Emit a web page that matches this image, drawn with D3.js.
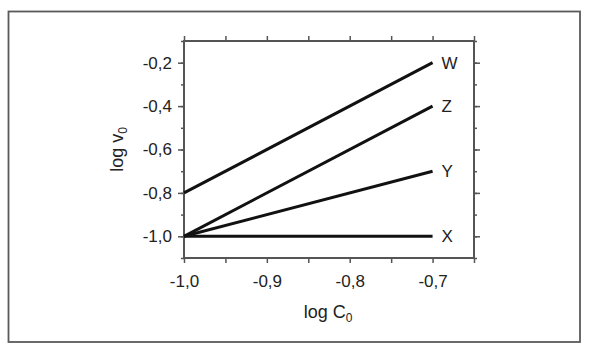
<!DOCTYPE html>
<html><head><meta charset="utf-8">
<script src="https://cdn.jsdelivr.net/npm/d3@7"></script>
<style>body{margin:0;background:#fff}svg{display:block}text{font-family:"Liberation Sans",Arial,sans-serif}</style>
</head><body>
<svg id="c" width="590" height="355"></svg>
<script>
const seriesNames = ["W", "Z", "Y", "X"];
const xStart = [-1.0, -1.0, -1.0, -1.0];
const xEnd = [-0.7, -0.7, -0.7, -0.7];
const yStart = [-0.8, -1.0, -1.0, -1.0];
const yEnd = [-0.2, -0.4, -0.7, -1.0];
const xTickLabels = ["-1,0", "-0,9", "-0,8", "-0,7"];
const xTickValues = [-1.0, -0.9, -0.8, -0.7];
const yTickLabels = ["-1,0", "-0,8", "-0,6", "-0,4", "-0,2"];
const yTickValues = [-1.0, -0.8, -0.6, -0.4, -0.2];

const svg = d3.select("#c");
svg.append("rect").attr("x", 8.5).attr("y", 11.5).attr("width", 571.5).attr("height", 330.5)
  .attr("fill", "none").attr("stroke", "#5a5a5a").attr("stroke-width", 1.8);

const x = d3.scaleLinear().domain([-1.0, -0.65]).range([184, 474]);
const y = d3.scaleLinear().domain([-1.1, -0.1]).range([258, 41]);
const xMinor = d3.range(-1.0, -0.649, 0.05);
const yMinor = d3.range(-1.1, -0.09, 0.1);
const axCol = "#555";
const fs = 17;

function styleAxis(g) {
  g.select(".domain").remove();
  g.selectAll("line").attr("stroke", axCol).attr("stroke-width", 1.5);
}
svg.append("rect").attr("x", x.range()[0]).attr("y", y.range()[1])
  .attr("width", x.range()[1] - x.range()[0]).attr("height", y.range()[0] - y.range()[1])
  .attr("fill", "none").attr("stroke", axCol).attr("stroke-width", 2);

svg.append("g").attr("transform", `translate(0,${y.range()[0]})`)
  .call(d3.axisBottom(x).tickValues(xMinor).tickSize(5).tickFormat(""))
  .call(styleAxis);
svg.append("g").attr("transform", `translate(0,${y.range()[1]})`)
  .call(d3.axisTop(x).tickValues(xMinor).tickSize(5).tickFormat(""))
  .call(styleAxis);
svg.append("g").attr("transform", `translate(0,${y.range()[0]})`)
  .call(d3.axisBottom(x).tickValues(xTickValues).tickSize(0).tickPadding(17)
    .tickFormat((d, i) => xTickLabels[i]))
  .call(g => { g.select(".domain").remove(); g.selectAll("text").attr("font-size", fs).attr("fill", "#222"); });

svg.append("g").attr("transform", `translate(${x.range()[0]},0)`)
  .call(d3.axisLeft(y).tickValues(yMinor).tickSize(3).tickFormat(""))
  .call(styleAxis);
svg.append("g").attr("transform", `translate(${x.range()[1]},0)`)
  .call(d3.axisRight(y).tickValues(yMinor).tickSize(3).tickFormat(""))
  .call(styleAxis);
svg.append("g").attr("transform", `translate(${x.range()[0]},0)`)
  .call(d3.axisLeft(y).tickValues(yTickValues).tickSize(6).tickPadding(6)
    .tickFormat((d, i) => yTickLabels[i]))
  .call(styleAxis)
  .call(g => g.selectAll("text").attr("font-size", fs).attr("fill", "#222"));
svg.append("g").attr("transform", `translate(${x.range()[1]},0)`)
  .call(d3.axisRight(y).tickValues(yTickValues).tickSize(6).tickFormat(""))
  .call(styleAxis);

const data = seriesNames.map((n, i) => ({ n, p: [[xStart[i], yStart[i]], [xEnd[i], yEnd[i]]] }));
const line = d3.line().x(d => x(d[0])).y(d => y(d[1]));
svg.append("g").selectAll("path").data(data).join("path")
  .attr("d", d => line(d.p)).attr("fill", "none").attr("stroke", "#111").attr("stroke-width", 3);
svg.append("g").selectAll("text").data(data).join("text")
  .attr("x", d => x(d.p[1][0]) + 9).attr("y", d => y(d.p[1][1]))
  .attr("dy", "0.36em").attr("font-size", fs).attr("fill", "#222").text(d => d.n);

const xt = svg.append("text").attr("x", 328).attr("y", 318).attr("text-anchor", "middle")
  .attr("font-size", 18).attr("fill", "#222");
xt.append("tspan").text("log C");
xt.append("tspan").attr("font-size", 12).attr("dy", 4).text("0");
const yt = svg.append("text").attr("transform", `translate(123,${(y.range()[0] + y.range()[1]) / 2}) rotate(-90)`)
  .attr("text-anchor", "middle").attr("font-size", 18).attr("fill", "#222");
yt.append("tspan").text("log v");
yt.append("tspan").attr("font-size", 12).attr("dy", 4).text("0");
</script>
</body></html>
